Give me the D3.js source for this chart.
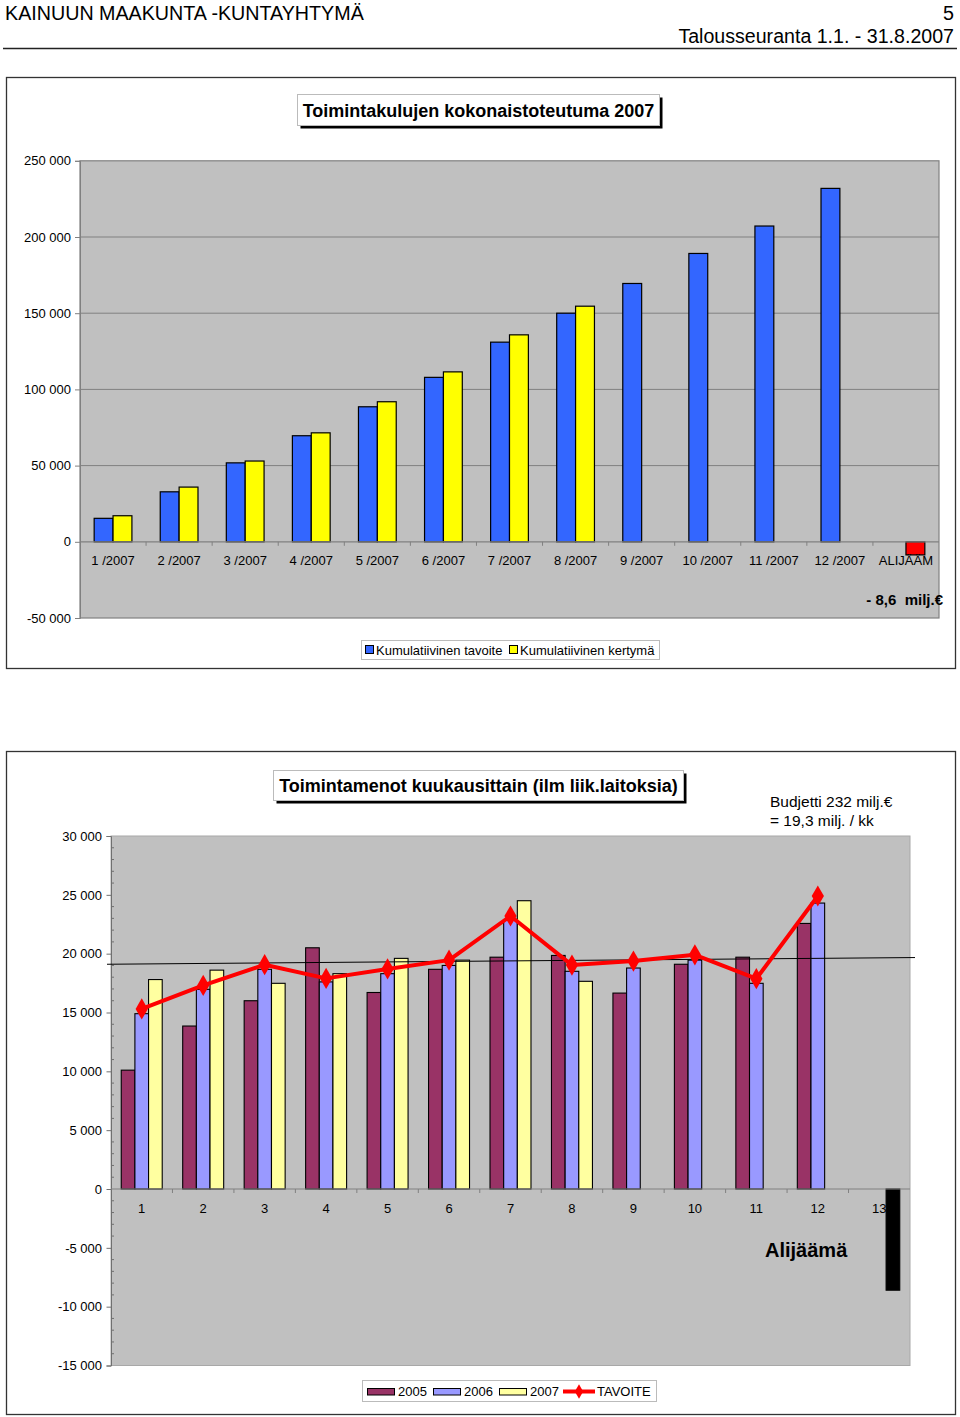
<!DOCTYPE html>
<html>
<head>
<meta charset="utf-8">
<script src="https://cdn.jsdelivr.net/npm/d3@7"></script>
<style>
  html, body { margin: 0; padding: 0; background: #fff; }
  svg { display: block; font-family: Arial, "Liberation Sans", sans-serif; }
  text { white-space: pre; }
</style>
</head>
<body>
<svg id="page" width="960" height="1417"></svg>
<script>
// ---------- Chart 1 data ----------
const c1Categories = ["1 /2007","2 /2007","3 /2007","4 /2007","5 /2007","6 /2007","7 /2007","8 /2007","9 /2007","10 /2007","11 /2007","12 /2007","ALIJÄÄM"];
const c1Tavoite = [15400, 32800, 51800, 69600, 88600, 107900, 131000, 150000, 169500, 189200, 207200, 231900, null];
const c1Kertyma = [17100, 35900, 53000, 71500, 91900, 111500, 135800, 154600, null, null, null, null, -8600];
const c1Ticks = [-50000, 0, 50000, 100000, 150000, 200000, 250000];
const c1SeriesNames = ["Kumulatiivinen tavoite", "Kumulatiivinen kertymä"];

// ---------- Chart 2 data ----------
const c2Categories = ["1","2","3","4","5","6","7","8","9","10","11","12","13"];
const c2Y2005 = [10100, 13850, 16000, 20500, 16700, 18670, 19700, 19850, 16650, 19100, 19700, 22570, null];
const c2Y2006 = [14900, 16970, 18670, 17600, 18300, 19000, 22850, 18500, 18780, 19450, 17480, 24300, null];
const c2Y2007 = [17800, 18600, 17480, 18300, 19600, 19450, 24500, 17650, null, null, null, null, -8600];
const c2Tavoite = [15300, 17300, 19060, 17900, 18700, 19450, 23200, 19030, 19370, 19900, 17870, 24900, null];
const c2Ticks = [-15000, -10000, -5000, 0, 5000, 10000, 15000, 20000, 25000, 30000];
const c2SeriesNames = ["2005", "2006", "2007", "TAVOITE"];
const c2BudgetLine = [19100, 19670]; // monthly budget reference line (start, end)

const fmt = v => (v < 0 ? "-" : "") + d3.format(",")(Math.abs(v)).replace(/,/g, " ");

const svg = d3.select("#page");

// ---------- Header ----------
svg.append("text").attr("x", 5).attr("y", 20).attr("font-size", 19.7).text("KAINUUN MAAKUNTA -KUNTAYHTYMÄ");
svg.append("text").attr("x", 954).attr("y", 20).attr("font-size", 19.7).attr("text-anchor", "end").text("5");
svg.append("text").attr("x", 954).attr("y", 43).attr("font-size", 19.6).attr("text-anchor", "end").text("Talousseuranta 1.1. - 31.8.2007");
svg.append("line").attr("x1", 3).attr("x2", 957).attr("y1", 48.5).attr("y2", 48.5).attr("stroke", "#222").attr("stroke-width", 1.3);

function titleBox(g, x, y, w, h, label) {
  g.append("rect").attr("x", x + 3).attr("y", y + 3).attr("width", w).attr("height", h).attr("fill", "#000");
  g.append("rect").attr("x", x).attr("y", y).attr("width", w).attr("height", h).attr("fill", "#fff").attr("stroke", "#bbb").attr("stroke-width", 1);
  g.append("text").attr("x", x + w / 2).attr("y", y + h / 2 + 6.5).attr("text-anchor", "middle")
    .attr("font-size", 18).attr("font-weight", "bold").text(label);
}

// ================= Chart 1 =================
{
  const g = svg.append("g");
  g.append("rect").attr("x", 6.5).attr("y", 77.5).attr("width", 949).attr("height", 591)
    .attr("fill", "#fff").attr("stroke", "#333").attr("stroke-width", 1.3);

  titleBox(g, 297.5, 94.5, 362, 31, "Toimintakulujen kokonaistoteutuma 2007");

  const x0 = 80, x1 = 939;
  const y = d3.scaleLinear().domain([-50000, 250000]).range([618, 160.8]);
  const x = d3.scaleBand().domain(c1Categories).range([x0, x1]).paddingInner(0).paddingOuter(0);
  const bw = x.bandwidth() / 3.5;

  g.append("rect").attr("x", x0).attr("y", y(250000)).attr("width", x1 - x0).attr("height", y(-50000) - y(250000))
    .attr("fill", "#c0c0c0").attr("stroke", "#808080").attr("stroke-width", 1.2);

  // gridlines
  g.selectAll(".grid").data(c1Ticks.filter(t => t > 0 && t < 250000)).enter().append("line")
    .attr("x1", x0).attr("x2", x1).attr("y1", d => y(d)).attr("y2", d => y(d))
    .attr("stroke", "#808080").attr("stroke-width", 1);

  // y axis
  const yAxis = d3.axisLeft(y).tickValues(c1Ticks).tickSize(5).tickFormat(fmt);
  const ya = g.append("g").attr("transform", `translate(${x0},0)`).call(yAxis);
  ya.select(".domain").attr("stroke", "#808080");
  ya.selectAll(".tick line").attr("stroke", "#808080");
  ya.selectAll(".tick text").attr("font-size", 13).attr("font-family", "Arial, 'Liberation Sans', sans-serif").attr("fill", "#000").attr("x", -9);

  // bars
  const series = [
    { vals: c1Tavoite, fill: "#3366ff", idx: 0 },
    { vals: c1Kertyma, fill: "#ffff00", idx: 1 }
  ];
  series.forEach(s => {
    g.selectAll(null).data(s.vals.map((v, i) => ({ v, c: c1Categories[i] })).filter(d => d.v !== null))
      .enter().append("rect")
      .attr("x", d => x(d.c) + x.bandwidth() / 2 - bw + s.idx * bw)
      .attr("y", d => y(Math.max(0, d.v)))
      .attr("width", bw)
      .attr("height", d => Math.abs(y(d.v) - y(0)))
      .attr("fill", d => d.v < 0 ? "#ff0000" : s.fill)
      .attr("stroke", "#000").attr("stroke-width", 1.2);
  });

  // x axis at zero
  g.append("line").attr("x1", x0).attr("x2", x1).attr("y1", y(0)).attr("y2", y(0)).attr("stroke", "#808080").attr("stroke-width", 1.2);
  g.selectAll(".xt").data(c1Categories.slice(1)).enter().append("line")
    .attr("x1", d => x(d)).attr("x2", d => x(d)).attr("y1", y(0)).attr("y2", y(0) + 4).attr("stroke", "#808080");
  g.selectAll(".xl").data(c1Categories).enter().append("text")
    .attr("x", d => x(d) + x.bandwidth() / 2).attr("y", y(0) + 23).attr("text-anchor", "middle")
    .attr("font-size", 13).text(d => d);

  g.append("text").attr("x", 943).attr("y", 605).attr("text-anchor", "end").attr("font-size", 15)
    .attr("font-weight", "bold").text("- 8,6  milj.€");

  // legend
  const lg = g.append("g");
  lg.append("rect").attr("x", 361.5).attr("y", 640.5).attr("width", 298).attr("height", 19).attr("fill", "#fff").attr("stroke", "#bbb");
  const items = [{ n: c1SeriesNames[0], c: "#3366ff", x: 365 }, { n: c1SeriesNames[1], c: "#ffff00", x: 509 }];
  items.forEach(it => {
    lg.append("rect").attr("x", it.x + 0.5).attr("y", 645.5).attr("width", 8).attr("height", 8).attr("fill", it.c).attr("stroke", "#000");
    lg.append("text").attr("x", it.x + 11).attr("y", 654.5).attr("font-size", 13).text(it.n);
  });
}

// ================= Chart 2 =================
{
  const g = svg.append("g");
  g.append("rect").attr("x", 6.5).attr("y", 751.5).attr("width", 949).attr("height", 663)
    .attr("fill", "#fff").attr("stroke", "#333").attr("stroke-width", 1.3);

  titleBox(g, 273.5, 770.5, 410, 30, "Toimintamenot kuukausittain (ilm liik.laitoksia)");

  g.append("text").attr("x", 770).attr("y", 806.5).attr("font-size", 15.5).text("Budjetti 232 milj.€");
  g.append("text").attr("x", 770).attr("y", 826).attr("font-size", 15.5).text("= 19,3 milj. / kk");

  const x0 = 111, x1 = 910;
  const y = d3.scaleLinear().domain([-15000, 30000]).range([1365.5, 836]);
  const x = d3.scaleBand().domain(c2Categories).range([x0, x1]);
  const bw = x.bandwidth() / 4.5;

  g.append("rect").attr("x", x0).attr("y", y(30000)).attr("width", x1 - x0).attr("height", y(-15000) - y(30000))
    .attr("fill", "#c0c0c0").attr("stroke", "#a8a8a8").attr("stroke-width", 1);

  // y axis
  const yAxis = d3.axisLeft(y).tickValues(c2Ticks).tickSize(4.5).tickFormat(fmt);
  const ya = g.append("g").attr("transform", `translate(${x0},0)`).call(yAxis);
  ya.select(".domain").attr("stroke", "#707070");
  ya.selectAll(".tick line").attr("stroke", "#707070");
  ya.selectAll(".tick text").attr("font-size", 13).attr("font-family", "Arial, 'Liberation Sans', sans-serif").attr("fill", "#000").attr("x", -9);
  const minor = d3.range(-15000, 30001, 1000).filter(v => v % 5000 !== 0);
  g.selectAll(".minor").data(minor).enter().append("line")
    .attr("x1", x0).attr("x2", x0 + 3).attr("y1", d => y(d)).attr("y2", d => y(d)).attr("stroke", "#707070");

  const series = [
    { vals: c2Y2005, fill: "#993366", idx: 0 },
    { vals: c2Y2006, fill: "#9999ff", idx: 1 },
    { vals: c2Y2007, fill: "#ffffa0", idx: 2 }
  ];
  series.forEach(s => {
    g.selectAll(null).data(s.vals.map((v, i) => ({ v, c: c2Categories[i] })).filter(d => d.v !== null))
      .enter().append("rect")
      .attr("x", d => x(d.c) + x.bandwidth() / 2 - 1.5 * bw + s.idx * bw)
      .attr("y", d => y(Math.max(0, d.v)))
      .attr("width", bw)
      .attr("height", d => Math.abs(y(d.v) - y(0)))
      .attr("fill", d => d.v < 0 ? "#000000" : s.fill)
      .attr("stroke", "#000").attr("stroke-width", 1.1);
  });

  // x axis
  g.append("line").attr("x1", x0).attr("x2", x1).attr("y1", y(0)).attr("y2", y(0)).attr("stroke", "#808080").attr("stroke-width", 1.2);
  g.selectAll(".xt").data(c2Categories.slice(1)).enter().append("line")
    .attr("x1", d => x(d)).attr("x2", d => x(d)).attr("y1", y(0)).attr("y2", y(0) + 4).attr("stroke", "#808080");
  g.selectAll(".xl").data(c2Categories).enter().append("text")
    .attr("x", d => x(d) + x.bandwidth() / 2).attr("y", y(0) + 23.5).attr("text-anchor", "middle")
    .attr("font-size", 13).text(d => d);

  // budget reference line
  g.append("line").attr("x1", x0 - 4).attr("x2", x1 + 5)
    .attr("y1", y(c2BudgetLine[0])).attr("y2", y(c2BudgetLine[1]))
    .attr("stroke", "#000").attr("stroke-width", 1);

  // TAVOITE line
  const pts = c2Tavoite.map((v, i) => ({ v, c: c2Categories[i] })).filter(d => d.v !== null);
  const line = d3.line().x(d => x(d.c) + x.bandwidth() / 2).y(d => y(d.v));
  g.append("path").datum(pts).attr("d", line).attr("fill", "none").attr("stroke", "#ff0000").attr("stroke-width", 4).attr("stroke-linejoin", "round");
  g.selectAll(".mk").data(pts).enter().append("path")
    .attr("d", d3.symbol(d3.symbolDiamond, 130))
    .attr("transform", d => `translate(${x(d.c) + x.bandwidth() / 2},${y(d.v)})`)
    .attr("fill", "#ff0000");

  g.append("text").attr("x", 765).attr("y", 1257).attr("font-size", 20).attr("font-weight", "bold").text("Alijäämä");

  // legend
  const lg = g.append("g");
  lg.append("rect").attr("x", 362.5).attr("y", 1380.5).attr("width", 294).attr("height", 21).attr("fill", "#fff").attr("stroke", "#bbb");
  const items = [
    { n: c2SeriesNames[0], c: "#993366", x: 367 },
    { n: c2SeriesNames[1], c: "#9999ff", x: 433 },
    { n: c2SeriesNames[2], c: "#ffffa0", x: 499 }
  ];
  items.forEach(it => {
    lg.append("rect").attr("x", it.x + 0.5).attr("y", 1388.5).attr("width", 27).attr("height", 6.5).attr("fill", it.c).attr("stroke", "#000");
    lg.append("text").attr("x", it.x + 31).attr("y", 1396).attr("font-size", 13).text(it.n);
  });
  lg.append("line").attr("x1", 563).attr("x2", 595).attr("y1", 1391.5).attr("y2", 1391.5).attr("stroke", "#ff0000").attr("stroke-width", 4);
  lg.append("path").attr("d", d3.symbol(d3.symbolDiamond, 60)).attr("transform", "translate(579,1391.5)").attr("fill", "#ff0000");
  lg.append("text").attr("x", 597).attr("y", 1396).attr("font-size", 13).text(c2SeriesNames[3]);
}
</script>
</body>
</html>
